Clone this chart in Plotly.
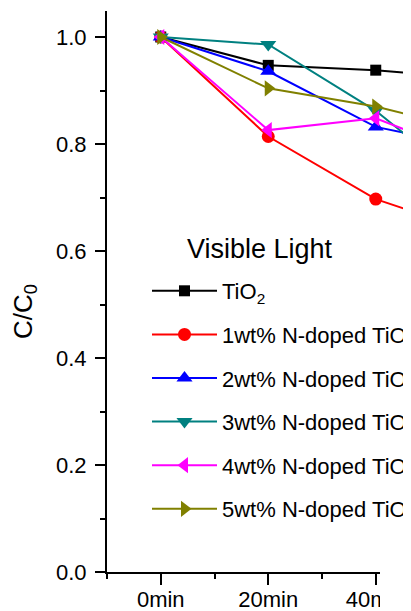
import plotly.graph_objects as go

# ---- data ----
minutes = [0, 20, 40, 60]
tick_labels = ["0min", "20min", "40min", "60min"]

tio2 = [1.0, 0.947, 0.938, 0.92]
n1 = [1.0, 0.814, 0.697, 0.63]
n2 = [1.0, 0.936, 0.832, 0.79]
n3 = [1.0, 0.986, 0.862, 0.70]
n4 = [1.0, 0.826, 0.848, 0.77]
n5 = [1.0, 0.904, 0.870, 0.82]

series_names = [
    "TiO<sub>2</sub>",
    "1wt% N-doped TiO<sub>2</sub>",
    "2wt% N-doped TiO<sub>2</sub>",
    "3wt% N-doped TiO<sub>2</sub>",
    "4wt% N-doped TiO<sub>2</sub>",
    "5wt% N-doped TiO<sub>2</sub>",
]
series_values = [tio2, n1, n2, n3, n4, n5]
colors = ["#000000", "#FF0000", "#0000FF", "#008080", "#FF00FF", "#808000"]
symbols = ["square", "circle", "triangle-up", "triangle-down", "triangle-left", "triangle-right"]
sizes = [11, 13, 14, 14, 14, 14]

FONT = "Liberation Sans, Arial, sans-serif"

fig = go.Figure()
for i, (name, vals) in enumerate(zip(series_names, series_values)):
    fig.add_trace(go.Scatter(
        x=minutes, y=vals, name=name, mode="lines+markers",
        legendgroup=f"g{i}",
        line=dict(color=colors[i], width=2),
        marker=dict(symbol=symbols[i], size=sizes[i], color=colors[i]),
    ))

# page offset (body margin) is 8px
OFF = 8
W, H = 403, 603
L, R, T, B = 99, 0, 3, 39
pw, ph = W - L - R, H - T - B

def px_x(p):  # screen px -> paper x
    return (p - OFF - L) / pw

def px_y(p):  # screen px -> paper y
    return (H - B - (p - OFF)) / ph

fig.update_layout(
    width=W, height=H,
    margin=dict(l=L, r=R, t=T, b=B, autoexpand=False),
    paper_bgcolor="white", plot_bgcolor="white",
    font=dict(family=FONT, size=22, color="black"),
    showlegend=True,
    legend=dict(
        x=px_x(147), y=px_y(270), xanchor="left", yanchor="top",
        bgcolor="rgba(0,0,0,0)", borderwidth=0,
        font=dict(family=FONT, size=22, color="black"),
        traceorder="grouped", tracegroupgap=12,
        itemwidth=65,
    ),
    xaxis=dict(
        range=[-10, -10 + pw / 5.375],
        tickvals=minutes, ticktext=tick_labels,
        showline=True, linecolor="black", linewidth=2,
        ticks="outside", ticklen=11, tickwidth=2, tickcolor="black",
        minor=dict(tickvals=[-10, 10, 30, 50], ticklen=5, tickwidth=2, tickcolor="black", ticks="outside"),
        showgrid=False, zeroline=False,
        tickfont=dict(family=FONT, size=22),
        ticklabelstandoff=-4,
        automargin=False,
    ),
    yaxis=dict(
        range=[0, 1.0486],
        tickvals=[0, 0.2, 0.4, 0.6, 0.8, 1.0], tickformat=".1f",
        showline=True, linecolor="black", linewidth=2,
        ticks="outside", ticklen=10, tickwidth=2, tickcolor="black",
        minor=dict(dtick=0.1, tick0=0, ticklen=5, tickwidth=2, tickcolor="black", ticks="outside"),
        showgrid=False, zeroline=False,
        tickfont=dict(family=FONT, size=22),
        ticklabelstandoff=4,
        automargin=False,
    ),
    shapes=[
        dict(type="rect", xref="paper", yref="paper", layer="above",
             x0=px_x(380), x1=px_x(420), y0=px_y(340), y1=px_y(620),
             fillcolor="white", line=dict(width=0)),
    ],
    annotations=[
        dict(text="Visible Light", xref="paper", yref="paper",
             x=px_x(260), y=px_y(249), xanchor="center", yanchor="middle",
             showarrow=False, font=dict(family=FONT, size=27, color="black")),
        dict(text="C/C<sub>0</sub>", xref="paper", yref="paper",
             x=px_x(24), y=px_y(312), xanchor="center", yanchor="middle",
             textangle=-90, showarrow=False, font=dict(family=FONT, size=26, color="black")),
    ],
)

fig.write_html("out.html")
